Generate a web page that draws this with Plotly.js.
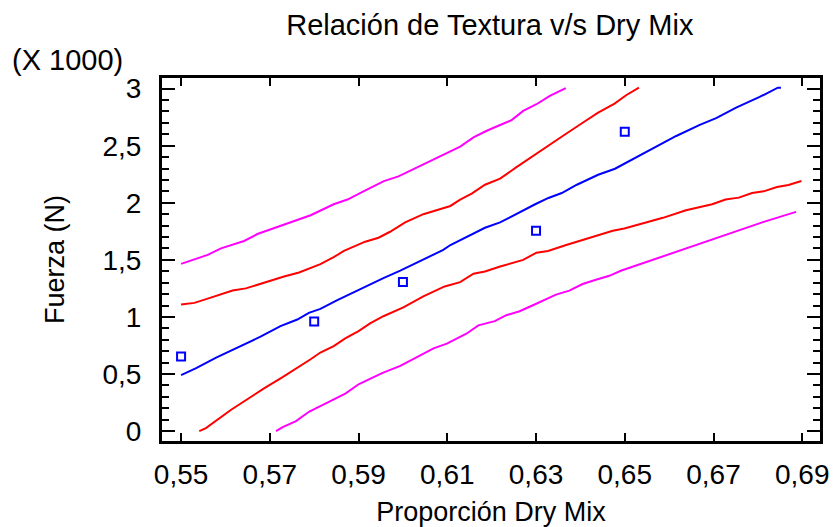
<!DOCTYPE html>
<html>
<head>
<meta charset="utf-8">
<script src="https://cdn.plot.ly/plotly-3.0.1.min.js"></script>
<style>html,body{margin:0;padding:0;background:#fff;}#chart{width:833px;height:527px;}</style>
</head>
<body>
<div id="chart"></div>
<script>
// Observed points (Fuerza in thousands of N)
const obsX = [0.55, 0.58, 0.60, 0.63, 0.65];
const obsY = [0.653, 0.96, 1.305, 1.755, 2.622];

// Fitted line
const fitX = [0.5500, 0.5534, 0.5579, 0.5635, 0.5679, 0.5724, 0.5762, 0.5788, 0.5814, 0.5851, 0.5896, 0.5956, 0.5994, 0.6054, 0.6091, 0.6107, 0.6144, 0.6185, 0.6219, 0.6264, 0.6298, 0.6328, 0.6358, 0.6392, 0.6440, 0.6478, 0.6526, 0.6575, 0.6616, 0.6669, 0.6706, 0.6751, 0.6804, 0.6845, 0.6852];
const fitY = [0.490, 0.551, 0.644, 0.745, 0.827, 0.919, 0.977, 1.036, 1.070, 1.145, 1.230, 1.340, 1.406, 1.514, 1.587, 1.630, 1.702, 1.781, 1.828, 1.920, 1.987, 2.042, 2.085, 2.158, 2.245, 2.298, 2.399, 2.500, 2.585, 2.683, 2.742, 2.834, 2.927, 3.008, 3.008];

// Upper confidence limit (red)
const ucX = [0.5500, 0.5530, 0.5560, 0.5616, 0.5646, 0.5695, 0.5732, 0.5766, 0.5814, 0.5844, 0.5867, 0.5915, 0.5945, 0.5971, 0.6005, 0.6046, 0.6107, 0.6129, 0.6155, 0.6185, 0.6219, 0.6256, 0.6297, 0.6331, 0.6361, 0.6406, 0.6440, 0.6477, 0.6503, 0.6532];
const ucY = [1.108, 1.123, 1.160, 1.232, 1.250, 1.311, 1.354, 1.389, 1.462, 1.523, 1.578, 1.659, 1.694, 1.746, 1.828, 1.900, 1.972, 2.028, 2.080, 2.158, 2.211, 2.312, 2.422, 2.509, 2.587, 2.703, 2.790, 2.869, 2.942, 3.008];

// Lower confidence limit (red)
const lcX = [0.5541, 0.5556, 0.5612, 0.5646, 0.5687, 0.5728, 0.5762, 0.5792, 0.5814, 0.5844, 0.5870, 0.5900, 0.5926, 0.5956, 0.6001, 0.6046, 0.6094, 0.6129, 0.6159, 0.6185, 0.6219, 0.6271, 0.6301, 0.6327, 0.6368, 0.6406, 0.6443, 0.6473, 0.6499, 0.6526, 0.6556, 0.6586, 0.6638, 0.6667, 0.6697, 0.6727, 0.6757, 0.6787, 0.6813, 0.6843, 0.6869, 0.6898];
const lcY = [0.000, 0.026, 0.185, 0.272, 0.374, 0.470, 0.551, 0.629, 0.688, 0.745, 0.812, 0.876, 0.943, 1.006, 1.084, 1.180, 1.267, 1.305, 1.378, 1.398, 1.441, 1.500, 1.563, 1.578, 1.630, 1.674, 1.723, 1.755, 1.775, 1.804, 1.842, 1.868, 1.935, 1.958, 1.987, 2.028, 2.045, 2.085, 2.100, 2.138, 2.155, 2.190];

// Upper prediction limit (magenta)
const upX = [0.5500, 0.5530, 0.5560, 0.5590, 0.5642, 0.5672, 0.5724, 0.5762, 0.5792, 0.5844, 0.5875, 0.5911, 0.5957, 0.5990, 0.6031, 0.6107, 0.6129, 0.6159, 0.6189, 0.6219, 0.6245, 0.6271, 0.6301, 0.6331, 0.6367];
const upY = [1.465, 1.506, 1.543, 1.601, 1.665, 1.726, 1.796, 1.854, 1.891, 1.987, 2.028, 2.100, 2.190, 2.231, 2.306, 2.451, 2.492, 2.573, 2.631, 2.681, 2.724, 2.805, 2.863, 2.936, 3.005];

// Lower prediction limit (magenta)
const lpX = [0.5714, 0.5729, 0.5759, 0.5789, 0.5841, 0.5871, 0.5901, 0.5953, 0.5994, 0.6031, 0.6069, 0.6099, 0.6143, 0.6170, 0.6207, 0.6233, 0.6263, 0.6293, 0.6319, 0.6345, 0.6375, 0.6405, 0.6435, 0.6465, 0.6491, 0.6525, 0.6559, 0.6619, 0.6686, 0.6746, 0.6813, 0.6886];
const lpY = [0.000, 0.035, 0.087, 0.171, 0.272, 0.331, 0.412, 0.507, 0.571, 0.649, 0.725, 0.766, 0.853, 0.926, 0.963, 1.015, 1.050, 1.102, 1.145, 1.195, 1.230, 1.288, 1.326, 1.360, 1.404, 1.450, 1.491, 1.572, 1.665, 1.746, 1.833, 1.920];

const FONT = 'Liberation Sans, Arial, sans-serif';
const X_RANGE = [0.5457, 0.6940];
const Y_RANGE = [-0.087, 3.093];

const lineTrace = (x, y, color) => ({
  x: x, y: y, type: 'scatter', mode: 'lines',
  line: {color: color, width: 2}, hoverinfo: 'skip', showlegend: false
});

const data = [
  // carrier for the minor-tick axis (transparent markers)
  {x: obsX, y: obsY, yaxis: 'y2', type: 'scatter', mode: 'markers',
   marker: {opacity: 0, size: 1}, showlegend: false, hoverinfo: 'skip'},
  lineTrace(lpX, lpY, '#ff00ff'),
  lineTrace(upX, upY, '#ff00ff'),
  lineTrace(lcX, lcY, '#ff0000'),
  lineTrace(ucX, ucY, '#ff0000'),
  lineTrace(fitX, fitY, '#0000ff'),
  {
    x: obsX, y: obsY, type: 'scatter', mode: 'markers',
    marker: {symbol: 'square-open', size: 8, color: '#0000ff', line: {width: 2, color: '#0000ff'}},
    showlegend: false, hoverinfo: 'skip'
  }
];

const layout = {
  width: 833, height: 527,
  paper_bgcolor: '#ffffff', plot_bgcolor: '#ffffff',
  separators: ',.',
  font: {family: FONT, size: 28, color: '#000000'},
  margin: {l: 162, r: 13, t: 78, b: 86},
  showlegend: false,
  title: {text: 'Relación de Textura v/s Dry Mix', font: {family: FONT, size: 29, color: '#000'},
          x: 0.588, xanchor: 'center', y: 0.952, yanchor: 'middle'},
  xaxis: {
    range: X_RANGE,
    tick0: 0.55, dtick: 0.02, tickmode: 'linear',
    ticks: 'inside', ticklen: 8, tickwidth: 2, tickcolor: '#000',
    showline: true, linewidth: 3, linecolor: '#000', mirror: 'ticks',
    showgrid: false, zeroline: false,
    ticklabelstandoff: 6,
    tickfont: {family: FONT, size: 28},
    title: {text: 'Proporción Dry Mix', font: {family: FONT, size: 27}, standoff: 15}
  },
  yaxis: {
    range: Y_RANGE,
    tick0: 0, dtick: 0.5, tickmode: 'linear',
    ticks: 'inside', ticklen: 13, tickwidth: 2, tickcolor: '#000',
    showline: true, linewidth: 3, linecolor: '#000', mirror: 'ticks',
    showgrid: false, zeroline: false,
    ticklabelstandoff: 12,
    tickfont: {family: FONT, size: 28},
    title: {text: 'Fuerza (N)', font: {family: FONT, size: 27}, standoff: 31}
  },
  yaxis2: {
    range: Y_RANGE, overlaying: 'y', side: 'left', anchor: 'x',
    tick0: 0, dtick: 0.1, tickmode: 'linear',
    ticks: 'inside', ticklen: 7, tickwidth: 2, tickcolor: '#000',
    showticklabels: false, showline: false, mirror: 'ticks',
    showgrid: false, zeroline: false
  },
  annotations: [{
    text: '(X 1000)', xref: 'paper', yref: 'paper', x: -0.231, y: 1.0,
    xanchor: 'left', yanchor: 'bottom', showarrow: false,
    font: {family: FONT, size: 29, color: '#000'}
  }]
};

Plotly.newPlot('chart', data, layout, {displayModeBar: false, staticPlot: true});
</script>
</body>
</html>
